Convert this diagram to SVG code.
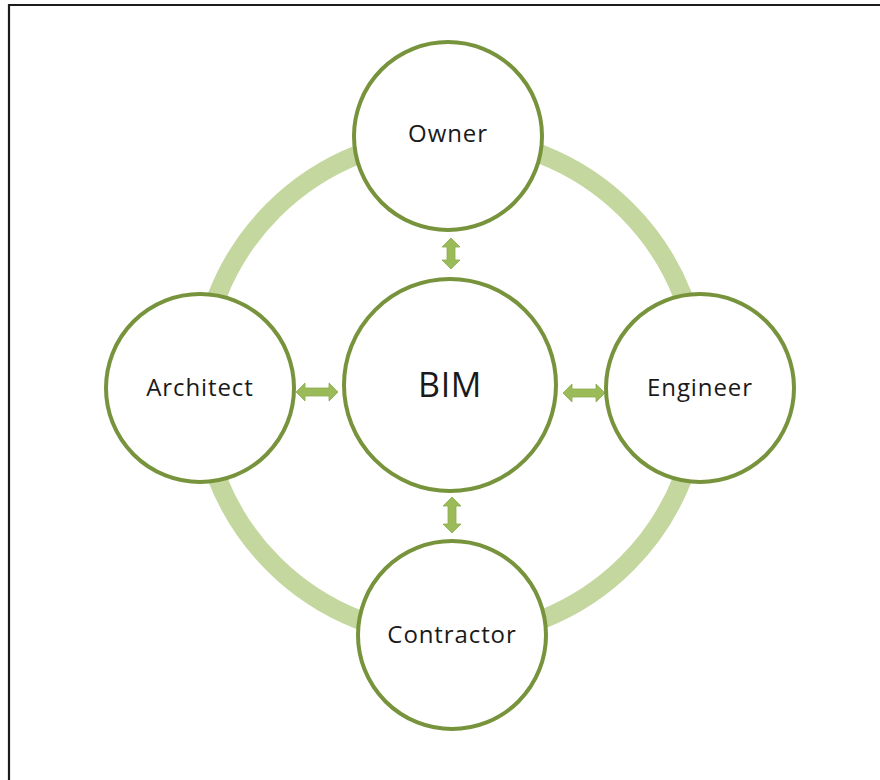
<svg xmlns="http://www.w3.org/2000/svg" width="880" height="780" viewBox="0 0 880 780">
  <style>
    .frame { fill: none; stroke: #1c1c1c; stroke-width: 2.2; }
    .ring { fill: none; stroke: #c4d79e; stroke-width: 19; }
    .node { fill: #ffffff; stroke: #77933c; stroke-width: 4; }
    .label { font-family: "Open Sans", "Liberation Sans", sans-serif; font-size: 24px; fill: #1a1a1a; text-anchor: middle; letter-spacing: 0.9px; }
    .big { font-size: 34px; letter-spacing: 0.6px; }
    .arrow { fill: #9bbb59; stroke: #8aab4c; stroke-width: 0.8; }
  </style>
  <rect width="880" height="780" fill="#ffffff"/>
  <!-- page frame: only top and left edges fall inside the canvas -->
  <path class="frame" d="M9,780 V5 H880"/>

  <!-- outer cycle ring through the four stakeholder nodes -->
  <circle class="ring" cx="450" cy="387" r="250"/>

  <g id="connectors">
    <!-- Owner <-> BIM -->
    <path class="arrow" d="M451,238 l9,9 h-5 v13 h5 l-9,9 l-9,-9 h5 v-13 h-5 z"/>
    <!-- Contractor <-> BIM -->
    <path class="arrow" d="M452,497 l9,9 h-5 v18 h5 l-9,9 l-9,-9 h5 v-18 h-5 z"/>
    <!-- Architect <-> BIM -->
    <path class="arrow" d="M296,392 l9,-9 v5 h24 v-5 l9,9 l-9,9 v-5 h-24 v5 z"/>
    <!-- BIM <-> Engineer -->
    <path class="arrow" d="M563,393 l9,-9 v5 h24 v-5 l9,9 l-9,9 v-5 h-24 v5 z"/>
  </g>

  <g id="owner">
    <circle class="node" cx="448" cy="136" r="94"/>
    <text class="label" x="448" y="142">Owner</text>
  </g>
  <g id="architect">
    <circle class="node" cx="200" cy="388" r="94"/>
    <text class="label" x="200" y="396">Architect</text>
  </g>
  <g id="bim">
    <circle class="node" cx="450" cy="385" r="106"/>
    <text class="label big" x="450" y="397">BIM</text>
  </g>
  <g id="engineer">
    <circle class="node" cx="700" cy="388" r="94"/>
    <text class="label" x="700" y="396">Engineer</text>
  </g>
  <g id="contractor">
    <circle class="node" cx="452" cy="635" r="94"/>
    <text class="label" x="452" y="643">Contractor</text>
  </g>
</svg>
